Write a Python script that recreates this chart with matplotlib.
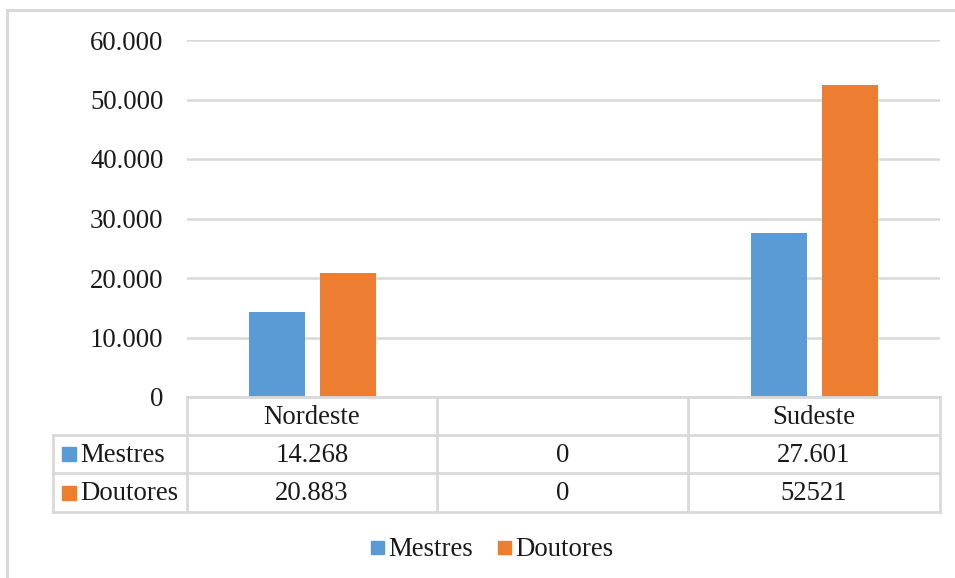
import matplotlib
matplotlib.use("Agg")
import matplotlib.pyplot as plt
from matplotlib.patches import Rectangle
from matplotlib.lines import Line2D

plt.rcParams['font.family'] = ['Liberation Serif', 'DejaVu Serif']

# Data
categories = ["Nordeste", "", "Sudeste"]
series_names = ["Mestres", "Doutores"]
mestres = [14268, 0, 27601]
doutores = [20883, 0, 52521]
mestres_labels = ["14.268", "0", "27.601"]
doutores_labels = ["20.883", "0", "52521"]
yticks = [0, 10000, 20000, 30000, 40000, 50000, 60000]
ytick_labels = ["0", "10.000", "20.000", "30.000", "40.000", "50.000", "60.000"]

colors = ["#5b9bd5", "#ed7d31"]
grid_c = "#d9d9d9"
text_c = "#1a1a1a"
fs = 19.3

W, H = 955, 578
fig = plt.figure(figsize=(W / 100, H / 100), dpi=100)

# pixel-space layout
ax_l, ax_r, ax_t, ax_b = 187, 940, 40, 397
ax = fig.add_axes([ax_l / W, 1 - ax_b / H, (ax_r - ax_l) / W, (ax_b - ax_t) / H])
ax.set_xlim(-0.5, len(categories) - 0.5)
ax.set_ylim(0, 60000)

xs = list(range(len(categories)))
bw = 0.223
off = 0.143
for vals, c, sgn in [(mestres, colors[0], -1), (doutores, colors[1], 1)]:
    ax.bar([x + sgn * off for x in xs], vals, width=bw, color=c, zorder=3)

ax.set_yticks(yticks)
ax.set_yticklabels(ytick_labels, fontsize=fs, color=text_c)
ax.tick_params(axis="y", length=0, pad=17)
ax.set_xticks([])
for s in ax.spines.values():
    s.set_visible(False)
ax.grid(axis="y", color=grid_c, linewidth=1.8, zorder=0)
ax.set_axisbelow(True)

# Overlay in pixel coordinates for the data table, legend and frame
ov = fig.add_axes([0, 0, 1, 1], zorder=5)
ov.set_xlim(0, W)
ov.set_ylim(H, 0)
ov.axis("off")
ov.patch.set_alpha(0)

def hline(x0, x1, y, lw=2):
    ov.add_line(Line2D([x0, x1], [y, y], color=grid_c, lw=lw))

def vline(x, y0, y1, lw=2):
    ov.add_line(Line2D([x, x], [y0, y1], color=grid_c, lw=lw))

# outer chart frame
hline(7, W, 10, lw=2.2)
vline(7, 10, H, lw=2.2)

# table grid
tab_l = 53
col_edges = [187, 437, 688, 940]
row_edges = [397, 435, 473, 512]
hline(col_edges[0], col_edges[-1], row_edges[0])
for y in row_edges[1:]:
    hline(tab_l, col_edges[-1], y)
for x in col_edges:
    vline(x, row_edges[0], row_edges[-1])
vline(tab_l, row_edges[1], row_edges[-1])

# header row
for i, cat in enumerate(categories):
    cx = (col_edges[i] + col_edges[i + 1]) / 2
    ov.text(cx, (row_edges[0] + row_edges[1]) / 2 + 1, cat, ha="center", va="center",
            fontsize=fs, color=text_c)

# series rows
for r, (name, labels, c) in enumerate(zip(series_names, [mestres_labels, doutores_labels], colors)):
    cy = (row_edges[r + 1] + row_edges[r + 2]) / 2
    ov.add_patch(Rectangle((62, cy - 7), 14, 14, color=c))
    ov.text(80, cy + 1, name, ha="left", va="center", fontsize=fs, color=text_c)
    for i, lab in enumerate(labels):
        cx = (col_edges[i] + col_edges[i + 1]) / 2
        ov.text(cx, cy + 1, lab, ha="center", va="center", fontsize=fs, color=text_c)

# bottom legend
ly = 548
ov.add_patch(Rectangle((371, ly - 7), 13, 13, color=colors[0]))
ov.text(388, ly + 1, series_names[0], ha="left", va="center", fontsize=fs, color=text_c)
ov.add_patch(Rectangle((498, ly - 7), 13, 13, color=colors[1]))
ov.text(515, ly + 1, series_names[1], ha="left", va="center", fontsize=fs, color=text_c)

fig.savefig("out.png", dpi=100, facecolor="white")
